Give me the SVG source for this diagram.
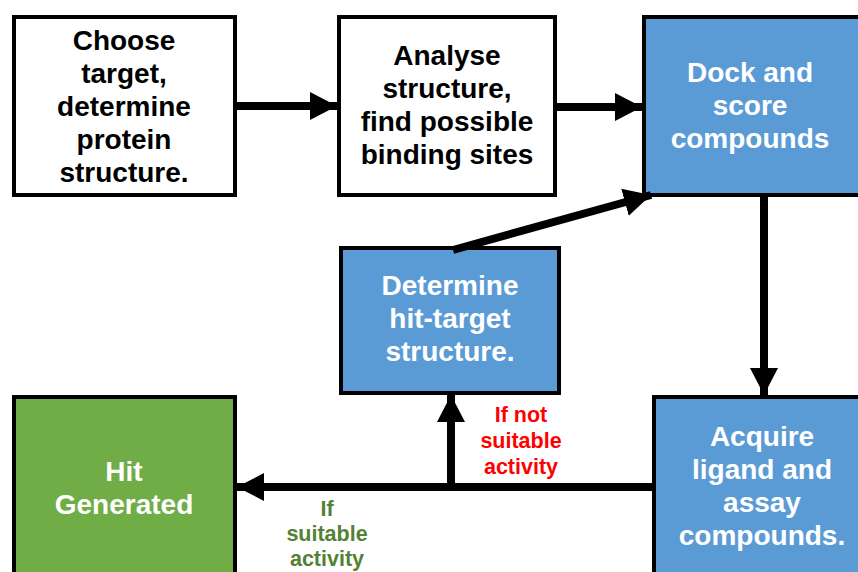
<svg xmlns="http://www.w3.org/2000/svg" width="858" height="572" viewBox="0 0 858 572">
<style>
.box{stroke:#000;stroke-width:4}
.w{fill:#fff}.b{fill:#5B9BD5}.g{fill:#70AD47}
text{font-family:"Liberation Sans",Arial,sans-serif;font-weight:bold;text-anchor:middle}
.t{font-size:28px}
.dk{fill:#000}.lt{fill:#fff}
.lab{font-size:21.5px}
.red{fill:#FF0000}.grn{fill:#548235}
.c{stroke:#000;stroke-width:8;fill:none}
</style>
<defs>
<marker id="ah" markerUnits="userSpaceOnUse" markerWidth="30" markerHeight="30" refX="27" refY="15" orient="auto" viewBox="0 0 30 30">
<path d="M0,1 L27,15 L0,29 Z" fill="#000"/>
</marker>
</defs>
<rect width="858" height="572" fill="#fff"/>
<g id="n1"><rect class="box w" x="14" y="17" width="221" height="178"/>
<text class="t dk" x="124"><tspan x="124" y="50">Choose</tspan><tspan x="124" y="83">target,</tspan><tspan x="124" y="116">determine</tspan><tspan x="124" y="149">protein</tspan><tspan x="124" y="182">structure.</tspan></text></g>
<g id="n2"><rect class="box w" x="339" y="17" width="216" height="178"/>
<text class="t dk"><tspan x="447" y="65">Analyse</tspan><tspan x="447" y="98">structure,</tspan><tspan x="447" y="131">find possible</tspan><tspan x="447" y="164">binding sites</tspan></text></g>
<g id="n3"><rect class="box b" x="644" y="17" width="230" height="178"/>
<text class="t lt"><tspan x="750" y="82">Dock and</tspan><tspan x="750" y="115">score</tspan><tspan x="750" y="148">compounds</tspan></text></g>
<g id="n4"><rect class="box b" x="341" y="248" width="218" height="145"/>
<text class="t lt"><tspan x="450" y="295">Determine</tspan><tspan x="450" y="328">hit-target</tspan><tspan x="450" y="361">structure.</tspan></text></g>
<g id="n5"><rect class="box b" x="654" y="397" width="220" height="190"/>
<text class="t lt"><tspan x="762" y="446">Acquire</tspan><tspan x="762" y="479">ligand and</tspan><tspan x="762" y="512">assay</tspan><tspan x="762" y="545">compounds.</tspan></text></g>
<g id="n6"><rect class="box g" x="14" y="397" width="221" height="190"/>
<text class="t lt"><tspan x="124" y="481">Hit</tspan><tspan x="124" y="514">Generated</tspan></text></g>
<g id="connectors">
<line class="c" x1="237" y1="106" x2="337" y2="106" marker-end="url(#ah)"/>
<line class="c" x1="557" y1="107" x2="642" y2="107" marker-end="url(#ah)"/>
<line class="c" x1="453" y1="250" x2="651" y2="195" marker-end="url(#ah)"/>
<line class="c" x1="764" y1="197" x2="764" y2="395" marker-end="url(#ah)"/>
<line class="c" x1="652" y1="487" x2="237" y2="487" marker-end="url(#ah)"/>
<line class="c" x1="451" y1="491" x2="451" y2="395" marker-end="url(#ah)"/>
</g>
<g id="labels">
<text class="lab red"><tspan x="521" y="422">If not</tspan><tspan x="521" y="448">suitable</tspan><tspan x="521" y="474">activity</tspan></text>
<text class="lab grn"><tspan x="327" y="516">If</tspan><tspan x="327" y="541">suitable</tspan><tspan x="327" y="566">activity</tspan></text>
</g>
</svg>
